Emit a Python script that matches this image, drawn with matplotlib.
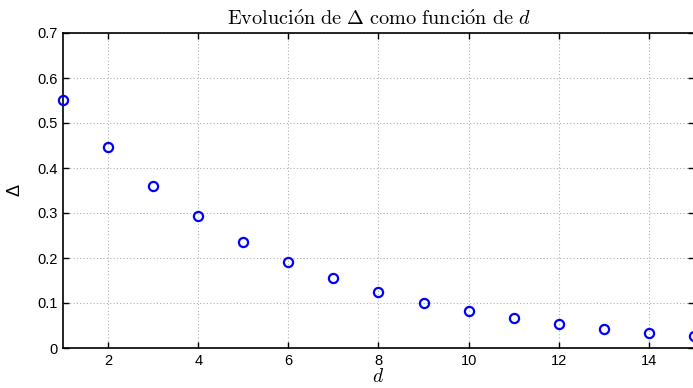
import matplotlib
matplotlib.use("Agg")
import matplotlib.pyplot as plt

d = list(range(1, 16))
delta = [0.551, 0.447, 0.361, 0.293, 0.236, 0.191, 0.155, 0.125, 0.101,
         0.0815, 0.066, 0.053, 0.043, 0.034, 0.027]
xticks = [2, 4, 6, 8, 10, 12, 14]
yticks = [0, 0.1, 0.2, 0.3, 0.4, 0.5, 0.6, 0.7]
yticklabels = ["0", "0.1", "0.2", "0.3", "0.4", "0.5", "0.6", "0.7"]

plt.rcParams['mathtext.fontset'] = 'cm'
plt.rcParams['font.family'] = ['Liberation Sans', 'DejaVu Sans']

fig = plt.figure(figsize=(6.93, 3.88), dpi=100)
ax = fig.add_axes([63/693, 1 - 348/388, (694 - 63)/693, (348 - 33)/388])

ax.plot(d, delta, linestyle='none', marker='o', markersize=6.6,
        markerfacecolor='none', markeredgecolor='#0000ff', markeredgewidth=1.6,
        clip_on=False, zorder=3)

ax.set_xlim(1, 15)
ax.set_ylim(0, 0.7)
ax.set_xticks(xticks)
ax.set_yticks(yticks)
ax.set_yticklabels(yticklabels)
ax.grid(True, linestyle=(0, (1, 2)), color='#b0b0b0', linewidth=0.8)
ax.set_axisbelow(True)
ax.tick_params(direction='in', top=True, right=True, length=4, width=1,
               labelsize=10.5, pad=4, colors='black')
for s in ax.spines.values():
    s.set_linewidth(1.2)

ax.set_title(r"$\mathrm{Evoluci\acute{o}n\ de\ }\Delta\mathrm{\ como\ funci\acute{o}n\ de\ }d$",
             fontsize=14.6, pad=6)
ax.set_xlabel(r"$d$", fontsize=14, labelpad=0)
ax.set_ylabel("Δ", fontsize=13, labelpad=10)

fig.savefig("out.png", dpi=100)
